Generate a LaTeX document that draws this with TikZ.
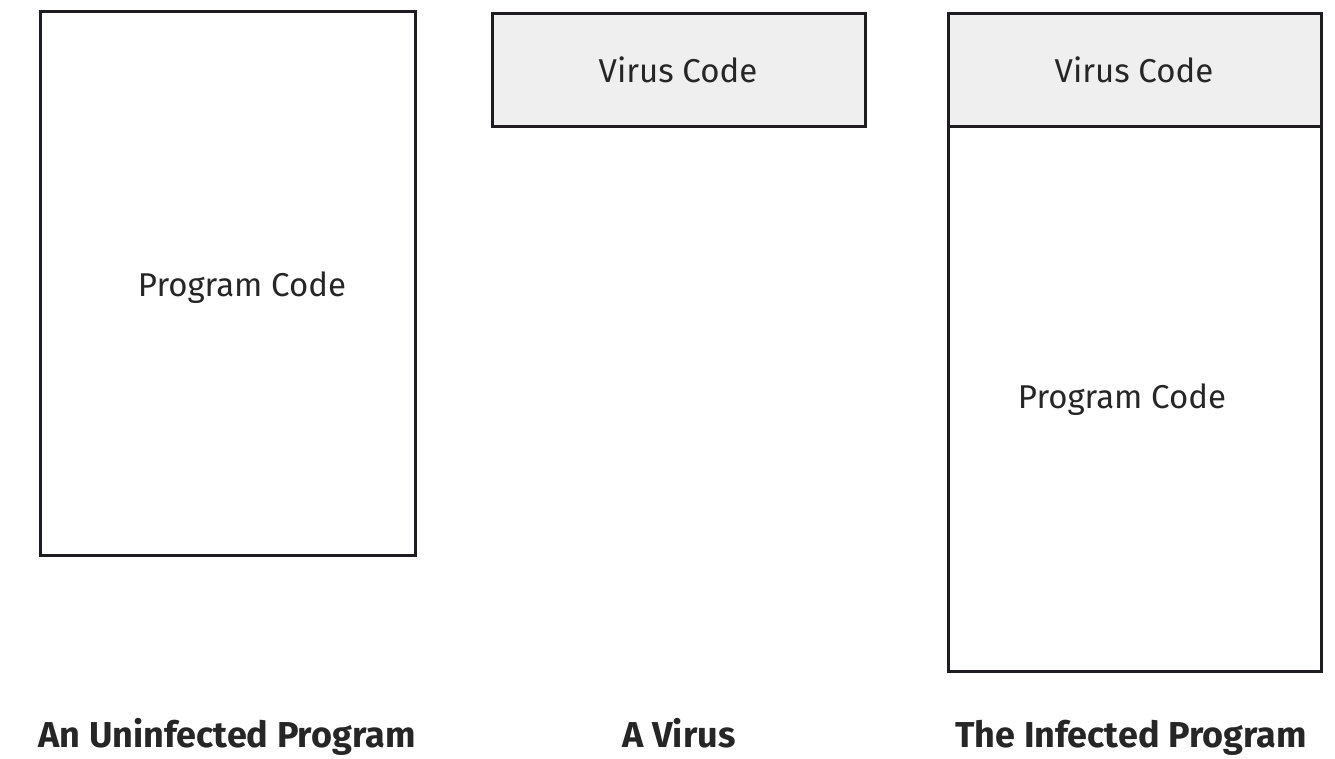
\documentclass[tikz,border=0pt]{standalone}
\usepackage{fontspec}
\setmainfont{Fira Sans}
\definecolor{edge}{HTML}{1F1C21}
\definecolor{virusfill}{HTML}{EFEFEF}
\begin{document}
\begin{tikzpicture}[x=1pt,y=-1pt,
  block/.style={draw=edge,line width=3pt},
  boxtext/.style={font=\fontsize{33}{36}\selectfont,text=black!85},
  caption/.style={font=\fontsize{36}{40}\selectfont\bfseries,text=black!85,anchor=base}]
\useasboundingbox (0,0) rectangle (1335,758);
% uninfected program
\draw[block,fill=white] (40,11) rectangle (415,555);
\node[boxtext] (pc1) at (242,288) {Program Code};
% virus alone
\draw[block,fill=virusfill] (492,13) rectangle (865,126);
\node[boxtext] (vc1) at (678,70) {Virus Code};
% infected program
\draw[block,fill=white] (948,126) rectangle (1321,671);
\draw[block,fill=virusfill] (948,13) rectangle (1321,126);
\node[boxtext] (vc2) at (1134,70) {Virus Code};
\node[boxtext] (pc2) at (1122,400) {Program Code};
% captions
\node[caption] (c1) at (227,747) {An Uninfected Program};
\node[caption] (c2) at (679,747) {A Virus};
\node[caption] (c3) at (1131,747) {The Infected Program};
\end{tikzpicture}
\end{document}
